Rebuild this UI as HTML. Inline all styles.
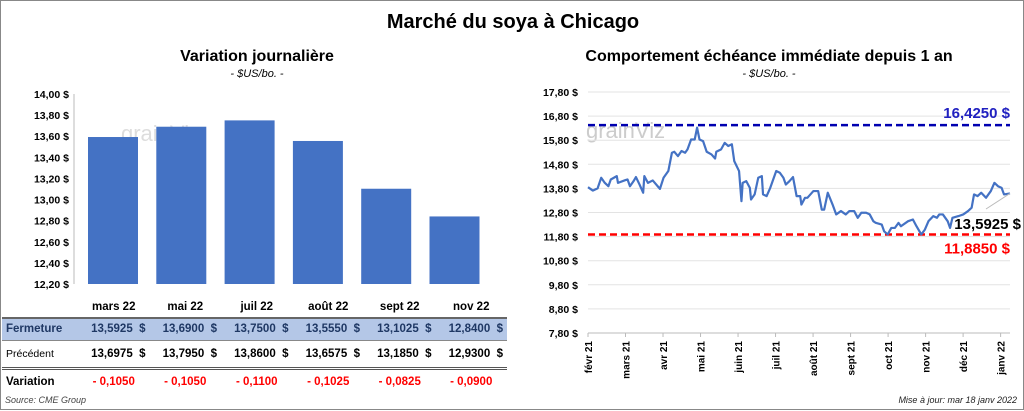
<!DOCTYPE html>
<html><head><meta charset="utf-8"><style>
body{margin:0;width:1024px;height:410px;overflow:hidden;background:#fff;font-family:"Liberation Sans",sans-serif}
#wrap{position:absolute;left:0;top:0;width:1022px;height:408px;border:1px solid #888}
.t{position:absolute;white-space:nowrap}
table{position:absolute;left:1px;top:296px;border-collapse:collapse;font-size:11.5px;font-weight:bold}
td{height:20px;padding:0 4px;text-align:right}
</style></head><body>
<div id="wrap">
<div class="t" style="left:0;width:1024px;text-align:center;top:10px;font-size:20px;font-weight:bold">Marché du soya à Chicago</div>
<div class="t" style="left:0;width:512px;text-align:center;top:47px;font-size:16px;font-weight:bold">Variation journalière</div>
<div class="t" style="left:0;width:512px;text-align:center;top:67px;font-size:11px;font-style:italic">- $US/bo. -</div>
<div class="t" style="left:512px;width:512px;text-align:center;top:47px;font-size:16px;font-weight:bold">Comportement échéance immédiate depuis 1 an</div>
<div class="t" style="left:512px;width:512px;text-align:center;top:67px;font-size:11px;font-style:italic">- $US/bo. -</div>
<svg id="bars" width="512" height="300" style="position:absolute;left:0;top:0"></svg>
<svg id="line" width="1024" height="410" style="position:absolute;left:0;top:0"></svg>
<table>
<tr style="height:20px"><td style="width:68px"></td><td style="width:63.5px;text-align:center">mars 22</td><td style="width:63.5px;text-align:center">mai 22</td><td style="width:63.5px;text-align:center">juil 22</td><td style="width:63.5px;text-align:center">août 22</td><td style="width:63.5px;text-align:center">sept 22</td><td style="width:63.5px;text-align:center">nov 22</td></tr>
<tr style="background:#b4c7e7;color:#1f3864;border-top:2px solid #666;border-bottom:1px solid #888;height:22px"><td style="text-align:left">Fermeture</td><td>13,5925 &nbsp;$</td><td>13,6900 &nbsp;$</td><td>13,7500 &nbsp;$</td><td>13,5550 &nbsp;$</td><td>13,1025 &nbsp;$</td><td>12,8400 &nbsp;$</td></tr>
<tr style="border-bottom:3px double #555;height:28px"><td style="text-align:left;font-weight:normal;font-size:10.5px">Précédent</td><td>13,6975 &nbsp;$</td><td>13,7950 &nbsp;$</td><td>13,8600 &nbsp;$</td><td>13,6575 &nbsp;$</td><td>13,1850 &nbsp;$</td><td>12,9300 &nbsp;$</td></tr>
<tr style="height:26px;color:#f00"><td style="text-align:left;color:#000">Variation</td><td style="text-align:center">- 0,1050</td><td style="text-align:center">- 0,1050</td><td style="text-align:center">- 0,1100</td><td style="text-align:center">- 0,1025</td><td style="text-align:center">- 0,0825</td><td style="text-align:center">- 0,0900</td></tr>
</table>
<div class="t" style="left:4px;top:394px;font-size:9px;font-style:italic;color:#444">Source: CME Group</div>
<div class="t" style="right:6px;top:394px;font-size:9px;font-style:italic;color:#222">Mise à jour: mar 18 janv 2022</div>
</div>
<script>
const barCats=["mars 22","mai 22","juil 22","août 22","sept 22","nov 22"];
const barVals=[13.5925,13.69,13.75,13.555,13.1025,12.84];
const barTicks=[12.2,12.4,12.6,12.8,13.0,13.2,13.4,13.6,13.8,14.0];
const days=[0,4,8,11,14,17,19,24,25,31,33,35,38,40,43,46,47,50,54,60,63,67,70,72,75,78,81,83,86,89,91,93,96,99,103,106,107,111,114,117,120,122,126,128,129,132,135,136,139,142,145,146,149,152,154,157,160,163,165,168,171,174,177,178,181,183,188,192,195,197,200,204,207,211,215,218,222,225,228,232,235,238,240,245,247,250,253,256,259,261,267,271,274,278,281,284,288,291,293,296,300,302,304,309,313,317,320,322,325,328,332,336,339,342,345,347,352];
const prices=[13.85,13.71,13.80,14.24,14.03,13.89,14.17,14.31,14.03,14.14,14.17,13.89,14.10,14.27,13.96,13.62,14.31,14.03,14.13,13.78,14.24,14.52,15.28,15.32,15.14,15.35,15.28,15.42,15.83,15.83,16.32,15.83,15.76,15.32,15.21,15.04,15.32,15.42,15.69,15.56,15.63,14.93,14.52,13.27,14.03,14.10,13.82,13.34,13.55,14.24,14.31,13.55,13.48,13.82,14.10,14.52,14.45,14.24,13.96,14.10,14.27,13.48,13.48,13.13,13.41,13.41,13.69,13.69,12.92,12.92,13.62,13.13,12.72,12.86,12.72,12.86,12.86,12.58,12.79,12.79,12.72,12.44,12.37,12.30,12.02,11.89,12.16,12.16,12.37,12.23,12.44,12.51,12.23,11.89,12.09,12.44,12.65,12.58,12.72,12.72,12.44,12.16,12.58,12.65,12.72,12.86,13.00,13.55,13.48,13.62,13.41,13.69,14.03,13.89,13.82,13.55,13.5925];
const lineTicks=[7.8,8.8,9.8,10.8,11.8,12.8,13.8,14.8,15.8,16.8,17.8];
const months=["févr 21","mars 21","avr 21","mai 21","juin 21","juil 21","août 21","sept 21","oct 21","nov 21","déc 21","janv 22"];
const highVal=16.425, lowVal=11.885, lastVal=13.5925;
const NS="http://www.w3.org/2000/svg";
function mk(svg,tag,attrs,text){const e=document.createElementNS(NS,tag);for(const k in attrs)e.setAttribute(k,attrs[k]);if(text!==undefined)e.textContent=text;svg.appendChild(e);return e;}
const fmt=v=>v.toFixed(2).replace('.',',')+' $';
const bs=document.getElementById('bars');
const by=v=>283-(v-12.2)/1.8*190;
const bx=i=>112+i*68.3;
mk(bs,'text',{x:120,y:140,'font-size':22,fill:'#ddd','font-family':'Liberation Sans'},'grainViz');
barTicks.forEach(t=>{const e=mk(bs,'text',{x:68,y:by(t)+4,'text-anchor':'end','font-size':10.5,'font-weight':'bold'},fmt(t));

});
mk(bs,'line',{x1:73,x2:73,y1:by(14),y2:283,stroke:'#bbb'});
barVals.forEach((v,i)=>{const r=mk(bs,'rect',{x:bx(i)-25,y:by(v),width:50,height:283-by(v),fill:'#4472c4'});

});
const ls=document.getElementById('line');
const x0=587,x1=1009,ly=v=>332-(v-7.8)/10*241,lx=d=>x0+d/352*(x1-x0);
mk(ls,'text',{x:585,y:137,'font-size':22,fill:'#ccc'},'grainViz');
lineTicks.forEach(t=>{mk(ls,'line',{x1:x0,x2:x1,y1:ly(t),y2:ly(t),stroke:'#e3e3e3'});
const e=mk(ls,'text',{x:577,y:ly(t)+4,'text-anchor':'end','font-size':10.5,'font-weight':'bold'},fmt(t));

});
mk(ls,'line',{x1:x0,x2:x1,y1:332,y2:332,stroke:'#bbb'});
months.forEach((m,i)=>{const x=x0+i*(x1-x0)/11.25;mk(ls,'line',{x1:x,x2:x,y1:332,y2:336,stroke:'#bbb'});
const e=mk(ls,'text',{x:x+4,y:340,'text-anchor':'end','font-size':10,'font-weight':'bold',transform:`rotate(-90 ${x+4} 340)`},m);

});
const hl=mk(ls,'line',{x1:x0,x2:x1,y1:ly(highVal),y2:ly(highVal),stroke:'#0000b0','stroke-width':2.5,'stroke-dasharray':'7 4'});


const ll=mk(ls,'line',{x1:x0,x2:x1,y1:ly(lowVal),y2:ly(lowVal),stroke:'#ff0000','stroke-width':2.5,'stroke-dasharray':'7 4'});


mk(ls,'text',{x:1009,y:ly(highVal)-7,'text-anchor':'end','font-size':15,'font-weight':'bold',fill:'#2020c0'},highVal.toFixed(4).replace('.',',')+' $');
mk(ls,'text',{x:1009,y:ly(lowVal)+19,'text-anchor':'end','font-size':15,'font-weight':'bold',fill:'#f00'},lowVal.toFixed(4).replace('.',',')+' $');
const p=mk(ls,'polyline',{points:days.map((d,i)=>lx(d)+','+ly(prices[i])).join(' '),fill:'none',stroke:'#4472c4','stroke-width':2.2,'stroke-linejoin':'round'});


mk(ls,'line',{x1:985,y1:208,x2:lx(days[days.length-1]),y2:ly(lastVal),stroke:'#bbb'});
mk(ls,'text',{x:1020,y:228,'text-anchor':'end','font-size':15,'font-weight':'bold'},lastVal.toFixed(4).replace('.',',')+' $');
</script>
</body></html>
